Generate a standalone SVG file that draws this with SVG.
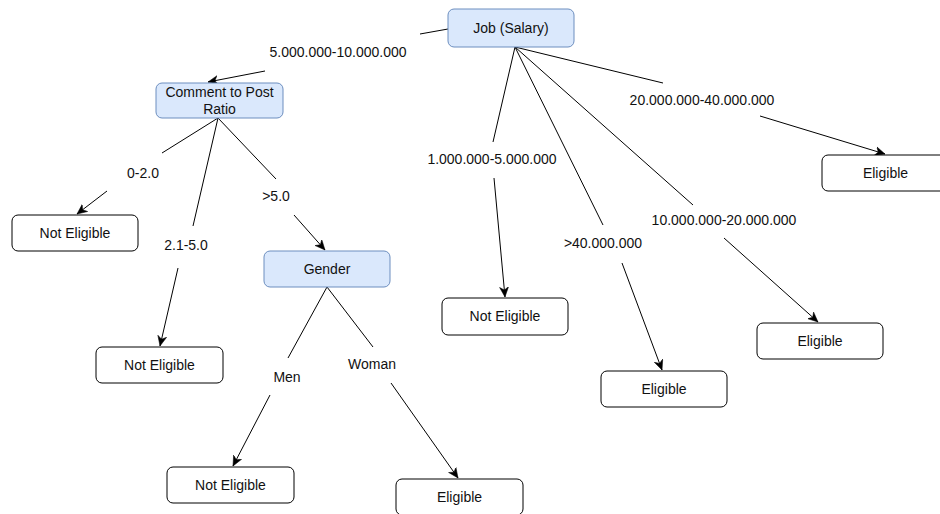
<svg xmlns="http://www.w3.org/2000/svg" width="940" height="514" viewBox="0 0 940 514">
<defs>
<style>
.bg{fill:#ffffff}
.blue rect{fill:#dae8fc;stroke:#6c8ebf;stroke-width:1}
.leaf rect{fill:#ffffff;stroke:#000000;stroke-width:1}
text{font-family:"Liberation Sans",Arial,sans-serif;font-size:14px;fill:#111;text-anchor:middle}
.edge{fill:none;stroke:#000;stroke-width:1}
</style>
<marker id="arr" markerWidth="12" markerHeight="10" refX="10" refY="5" orient="auto" markerUnits="userSpaceOnUse">
<path d="M0,0.5 L10,5 L0,9.5 L3,5 Z" fill="#000" stroke="#000" stroke-width="0.5"/>
</marker>
</defs>
<rect class="bg" x="0" y="0" width="940" height="514"/>
<g id="connectors">
<path class="edge" d="M448,29 L420,34"/>
<path class="edge" d="M265,71 L208,82" marker-end="url(#arr)"/>
<text x="338" y="57">5.000.000-10.000.000</text>

<path class="edge" d="M218,118 L162,153"/>
<path class="edge" d="M107,191 L77,214" marker-end="url(#arr)"/>
<text x="143" y="178">0-2.0</text>

<path class="edge" d="M218,118 L193,226"/>
<path class="edge" d="M178,268 L160,346" marker-end="url(#arr)"/>
<text x="186" y="250">2.1-5.0</text>

<path class="edge" d="M218,118 L276,179"/>
<path class="edge" d="M294,215 L325,250" marker-end="url(#arr)"/>
<text x="276" y="201">&gt;5.0</text>

<path class="edge" d="M327,287 L288,358"/>
<path class="edge" d="M270,395 L233,466" marker-end="url(#arr)"/>
<text x="287" y="382">Men</text>

<path class="edge" d="M327,287 L373,347"/>
<path class="edge" d="M391,383 L458,478" marker-end="url(#arr)"/>
<text x="372" y="369">Woman</text>

<path class="edge" d="M515,47 L663,83"/>
<path class="edge" d="M760,116 L885,154" marker-end="url(#arr)"/>
<text x="702" y="105">20.000.000-40.000.000</text>

<path class="edge" d="M515,47 L493,142"/>
<path class="edge" d="M494,178 L505,297" marker-end="url(#arr)"/>
<text x="492" y="164">1.000.000-5.000.000</text>

<path class="edge" d="M515,47 L603,225"/>
<path class="edge" d="M622,263 L662,370" marker-end="url(#arr)"/>
<text x="603" y="248">&gt;40.000.000</text>

<path class="edge" d="M515,47 L693,205"/>
<path class="edge" d="M724,238 L818,322" marker-end="url(#arr)"/>
<text x="724" y="225">10.000.000-20.000.000</text>
</g>

<g id="job" class="blue">
<rect x="448" y="9" width="126" height="38" rx="6"/>
<text x="511" y="33">Job (Salary)</text>
</g>
<g id="comment" class="blue">
<rect x="156" y="83" width="127" height="35" rx="6"/>
<text x="219.5" y="97">Comment to Post</text>
<text x="219.5" y="114">Ratio</text>
</g>
<g id="not-eligible-1" class="leaf">
<rect x="12" y="215" width="126" height="36" rx="6"/>
<text x="75" y="238">Not Eligible</text>
</g>
<g id="not-eligible-2" class="leaf">
<rect x="96" y="347" width="127" height="36" rx="6"/>
<text x="159.5" y="370">Not Eligible</text>
</g>
<g id="gender" class="blue">
<rect x="264" y="251" width="126" height="36" rx="6"/>
<text x="327" y="274">Gender</text>
</g>
<g id="not-eligible-3" class="leaf">
<rect x="167" y="467" width="127" height="36" rx="6"/>
<text x="230.5" y="490">Not Eligible</text>
</g>
<g id="eligible-woman" class="leaf">
<rect x="396" y="479" width="127" height="36" rx="6"/>
<text x="459.5" y="502">Eligible</text>
</g>
<g id="eligible-20-40" class="leaf">
<rect x="822" y="155" width="127" height="36" rx="6"/>
<text x="885.5" y="178">Eligible</text>
</g>
<g id="not-eligible-1-5" class="leaf">
<rect x="442" y="298" width="126" height="37" rx="6"/>
<text x="505" y="321">Not Eligible</text>
</g>
<g id="eligible-40" class="leaf">
<rect x="601" y="371" width="126" height="36" rx="6"/>
<text x="664" y="394">Eligible</text>
</g>
<g id="eligible-10-20" class="leaf">
<rect x="757" y="323" width="126" height="36" rx="6"/>
<text x="820" y="346">Eligible</text>
</g>
</svg>
